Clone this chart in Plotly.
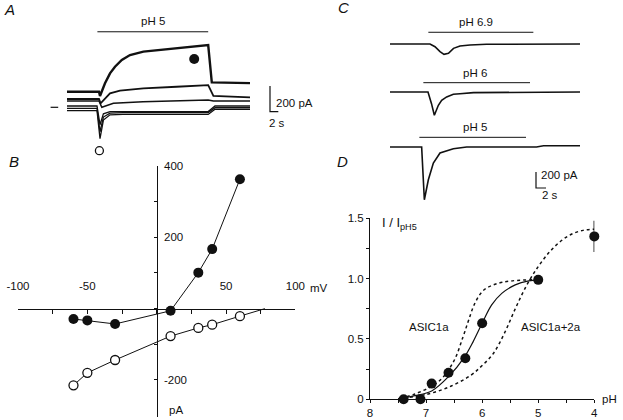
import plotly.graph_objects as go

W, H = 623, 420
FONT = "Arial, Liberation Sans, sans-serif"
INK = "#111111"

# ---------------- Panel A: current traces at pH 5 (time s, current pA) ----------------
a_t_hold60 = [0, 8, 8.25, 9.5, 10.75, 12, 13.7, 15.75, 19.1, 23.25, 27.4, 31.6, 35.3, 36.2, 45.75]
a_i_hold60 = [120, 120, 87, 185, 261, 312, 364, 402, 428, 441, 454, 471, 479, 192, 186]
a_t_hold30 = [0, 8, 8.4, 10.75, 13.25, 19.1, 27.4, 35.3, 36.6, 45.75]
a_i_hold30 = [64, 64, 31, 108, 128, 146, 158, 171, 87, 77]
a_t_hold10 = [0, 8, 8.7, 11.6, 19, 35.3, 36.6, 45.75]
a_i_hold10 = [48, 48, 0, 31, 43, 56, 48, 48]
a_t_neg = [0, 7.5, 8.25, 9.1, 10.75, 14, 35.3, 37, 45.75]
a_i_m30 = [10, 10, -134, -50, -33, -33, -33, 10, 10]
a_i_m50 = [-8, -8, -188, -75, -45, -41, -41, -3, -3]
a_i_m60 = [-26, -26, -241, -98, -58, -55, -55, -15, -15]
a_ph_bar_t = [7.6, 35.3]

# ---------------- Panel B: I-V relation ----------------
b_mv = [-60, -50, -30, 10, 30, 40, 60]
b_sustained_pA = [-29, -33, -43, -6, 101, 167, 363]
b_peak_pA = [-215, -180, -144, -77, -54, -45, -21]
b_peak_reversal_mV = 78

# ---------------- Panel C: traces at three pH values ----------------
c_t_69 = [0, 8, 9, 10, 10.8, 11.7, 12.7, 14, 16, 19.3, 38]
c_i_69 = [0, 0, -34, -96, -129, -116, -54, -25, -12, -4, 0]
c_t_6 = [0, 7.6, 8.3, 8.87, 9.67, 10.33, 11.33, 12.67, 14, 16.7, 38]
c_i_6 = [0, 0, -146, -291, -166, -104, -62, -29, -21, -8, 0]
c_t_5 = [0, 6.33, 6.87, 7.67, 8.67, 10, 12.67, 15.33, 29.3, 30.7, 38]
c_i_5 = [0, 0, -659, -409, -200, -75, -21, 0, 0, 16, 16]
c_bar_69 = [7.67, 28.67]
c_bar_6 = [6.67, 28.0]
c_bar_5 = [5.87, 27.2]

# ---------------- Panel D: pH dependence ----------------
d_ph = [7.4, 7.1, 6.9, 6.6, 6.3, 6.0, 5.0, 4.0]
d_rel = [0.0, 0.0, 0.13, 0.22, 0.34, 0.63, 0.99, 1.35]
d_err = [0, 0, 0, 0, 0, 0, 0, 0.13]
fit_ph = [7.5, 7.2, 6.9, 6.6, 6.31, 6.16, 6.0, 5.83, 5.65, 5.41, 5.17, 4.99]
fit_rel = [0.005, 0.03, 0.069, 0.188, 0.354, 0.478, 0.63, 0.782, 0.878, 0.948, 0.981, 0.989]
asic1a_ph = [7.45, 7.2, 6.78, 6.51, 6.34, 6.24, 6.13, 5.98, 5.77, 5.48, 4.99]
asic1a_rel = [0.01, 0.044, 0.146, 0.312, 0.519, 0.657, 0.796, 0.901, 0.953, 0.981, 0.992]
asic12_ph = [7.4, 7.0, 6.6, 6.2, 6.0, 5.8, 5.6, 5.4, 5.2, 5.0, 4.8, 4.6, 4.4, 4.2, 4.0]
asic12_rel = [0.01, 0.04, 0.10, 0.20, 0.28, 0.38, 0.55, 0.76, 0.95, 1.10, 1.22, 1.31, 1.37, 1.40, 1.41]


def xdom(p0, p1):
    return [p0 / W, p1 / W]


def ydom(top, bot):
    return [1 - bot / H, 1 - top / H]


fig = go.Figure()


def line(x, y, xa, ya, width=1.2, dash=None, shape="linear", color=INK):
    fig.add_trace(go.Scatter(x=x, y=y, xaxis=xa, yaxis=ya, mode="lines",
                             line=dict(color=color, width=width, dash=dash, shape=shape),
                             hoverinfo="skip", showlegend=False, cliponaxis=False))


# ---- Panel A (x3/y3) ----
for t, i, w in [(a_t_hold60, a_i_hold60, 2.4), (a_t_hold30, a_i_hold30, 1.8),
                (a_t_hold10, a_i_hold10, 1.5), (a_t_neg, a_i_m30, 1.3),
                (a_t_neg, a_i_m50, 1.3), (a_t_neg, a_i_m60, 1.3)]:
    line(t, i, "x3", "y3", width=w)
line(a_ph_bar_t, [581, 581], "x3", "y3", width=1)
line([-4.1, -2.2], [0, 0], "x3", "y3", width=1.2)
line([50.75, 50.75, 52.83], [163.8, -33.8, -33.8], "x3", "y3", width=1.2)
fig.add_trace(go.Scatter(x=[31.8], y=[371.5], xaxis="x3", yaxis="y3", mode="markers",
                         marker=dict(size=10, color=INK), showlegend=False, hoverinfo="skip"))
fig.add_trace(go.Scatter(x=[8.1], y=[-334], xaxis="x3", yaxis="y3", mode="markers",
                         marker=dict(size=8, color="white", line=dict(color=INK, width=1.3)),
                         showlegend=False, hoverinfo="skip", cliponaxis=False))

# ---- Panel B (x/y) ----
line(b_mv, b_sustained_pA, "x", "y", width=1)
line(b_mv + [b_peak_reversal_mV], b_peak_pA + [0], "x", "y", width=1)
fig.add_trace(go.Scatter(x=b_mv, y=b_sustained_pA, mode="markers",
                         marker=dict(size=10, color=INK), showlegend=False, hoverinfo="skip"))
fig.add_trace(go.Scatter(x=b_mv, y=b_peak_pA, mode="markers",
                         marker=dict(size=9, color="white", line=dict(color=INK, width=1.3)),
                         showlegend=False, hoverinfo="skip"))

# ---- Panel C (x4/y4) ----
C_OFF = {"6.9": 1287.5, "6": 687.5, "5": 0}
line(c_t_69, [v + C_OFF["6.9"] for v in c_i_69], "x4", "y4", width=1.6)
line(c_t_6, [v + C_OFF["6"] for v in c_i_6], "x4", "y4", width=1.6)
line(c_t_5, [v + C_OFF["5"] for v in c_i_5], "x4", "y4", width=1.6)
line(c_bar_69, [1434, 1434], "x4", "y4", width=1)
line(c_bar_6, [804, 804], "x4", "y4", width=1)
line(c_bar_5, [121, 121], "x4", "y4", width=1)
line([29.2, 29.2, 31.2], [-312.5, -512.5, -512.5], "x4", "y4", width=1.2)

# ---- Panel D (x2/y2) ----
line(fit_ph, fit_rel, "x2", "y2", width=1.2, shape="spline")
line(asic1a_ph, asic1a_rel, "x2", "y2", width=1.5, dash="3px,3px", shape="spline")
line(asic12_ph, asic12_rel, "x2", "y2", width=1.5, dash="3px,3px", shape="spline")
fig.add_trace(go.Scatter(x=d_ph, y=d_rel, xaxis="x2", yaxis="y2", mode="markers",
                         marker=dict(size=10, color=INK),
                         error_y=dict(type="data", array=d_err, visible=True, thickness=1.5,
                                      width=0, color=INK),
                         showlegend=False, hoverinfo="skip", cliponaxis=False))

tickfont = dict(family=FONT, size=11.5, color=INK)

fig.update_layout(
    width=W, height=H, margin=dict(l=0, r=0, t=0, b=0, autoexpand=False),
    paper_bgcolor="white", plot_bgcolor="rgba(0,0,0,0)",
    font=dict(family=FONT, size=11.5, color=INK),
    showlegend=False, hovermode=False,
    xaxis=dict(domain=xdom(18, 295.4), range=[-100, 100], anchor="free",
               position=1 - 308.7 / H, side="top", ticks="inside", ticklen=4,
               tickcolor=INK, tickwidth=1,
               tickvals=[-100, -75, -50, -25, 0, 25, 50, 75, 100],
               ticktext=["-100", "", "-50", "", "", "", "50", "", "100"],
               ticklabelstandoff=14, automargin=False,
               showline=True, linecolor=INK, linewidth=1, showgrid=False, zeroline=False,
               tickfont=tickfont, fixedrange=True),
    yaxis=dict(domain=ydom(166, 416.7), range=[-303, 400], anchor="free",
               position=156.7 / W, side="right", ticks="inside", ticklen=3,
               tickcolor=INK, tickwidth=1,
               tickvals=[-200, -100, 0, 100, 200, 300, 400],
               ticktext=["-200", "", "", "", "200", "", "400"],
               ticklabelstandoff=4, automargin=False,
               showline=True, linecolor=INK, linewidth=1, showgrid=False, zeroline=False,
               tickfont=tickfont, fixedrange=True),
    xaxis2=dict(domain=xdom(370, 594.3), range=[8, 4], anchor="y2",
                ticks="outside", ticklen=3, tickcolor=INK, tickwidth=1,
                tickvals=[8, 7.5, 7, 6.5, 6, 5.5, 5, 4.5, 4],
                ticktext=["8", "", "7", "", "6", "", "5", "", "4"],
                automargin=False,
                showline=True, linecolor=INK, linewidth=1, showgrid=False, zeroline=False,
                tickfont=tickfont, fixedrange=True),
    yaxis2=dict(domain=ydom(218.3, 399.3), range=[0, 1.5], anchor="x2",
                ticks="outside", ticklen=3, tickcolor=INK, tickwidth=1,
                tickvals=[0, 0.25, 0.5, 0.75, 1.0, 1.25, 1.5],
                ticktext=["0", "", "0.5", "", "1.0", "", "1.5"],
                automargin=False,
                showline=True, linecolor=INK, linewidth=1, showgrid=False, zeroline=False,
                tickfont=tickfont, fixedrange=True),
    xaxis3=dict(domain=xdom(40, 300), range=[-6.75, 58.25], anchor="y3", visible=False,
                automargin=False),
    yaxis3=dict(domain=ydom(0, 160), range=[-405.4, 825.4], anchor="x3", visible=False,
                automargin=False),
    xaxis4=dict(domain=xdom(380, 600), range=[-2, 42], anchor="y4", visible=False,
                automargin=False),
    yaxis4=dict(domain=ydom(0, 210), range=[-787.5, 1837.5], anchor="x4", visible=False,
                automargin=False),
)

ann = []


def note(text, x, y, xref, yref, size=11.5, xanchor="center", italic=False):
    ann.append(dict(text=f"<i>{text}</i>" if italic else text, x=x, y=y, xref=xref, yref=yref,
                    showarrow=False, xanchor=xanchor, yanchor="middle",
                    font=dict(family=FONT, size=size, color=INK)))


def px(xp, yp):
    return xp / W, 1 - yp / H


# panel letters (paper coordinates)
note("A", *px(9, 9.5), "paper", "paper", size=15, italic=True)
note("B", *px(14, 161.5), "paper", "paper", size=15, italic=True)
note("C", *px(343, 7.5), "paper", "paper", size=15, italic=True)
note("D", *px(342.5, 161), "paper", "paper", size=15, italic=True)
# A
note("pH 5", 21.4, 666, "x3", "y3")
note("200 pA", 51.75, 35.4, "x3", "y3", xanchor="left")
note("2 s", 52.6, -118.5, "x3", "y3")
# B axis units
note("mV", *px(308, 288), "paper", "paper", xanchor="left")
note("pA", *px(176, 410), "paper", "paper")
# C
note("pH 6.9", 17.1, 1562.5, "x4", "y4")
note("pH 6", 16.9, 921, "x4", "y4")
note("pH 5", 16.9, 250, "x4", "y4")
note("200 pA", 29.8, -350, "x4", "y4", xanchor="left")
note("2 s", 32, -600, "x4", "y4")
# D
note("I / I<sub>pH5</sub>", 7.82, 1.46, "x2", "y2", size=13, xanchor="left")
note("pH", *px(609, 399), "paper", "paper")
note("ASIC1a", 6.95, 0.597, "x2", "y2")
note("ASIC1a+2a", 4.776, 0.597, "x2", "y2")

fig.update_layout(annotations=ann)
fig.write_html("out.html", config={"displayModeBar": False, "staticPlot": True},
               post_script="document.body.style.margin='0';document.body.style.overflow='hidden';")
